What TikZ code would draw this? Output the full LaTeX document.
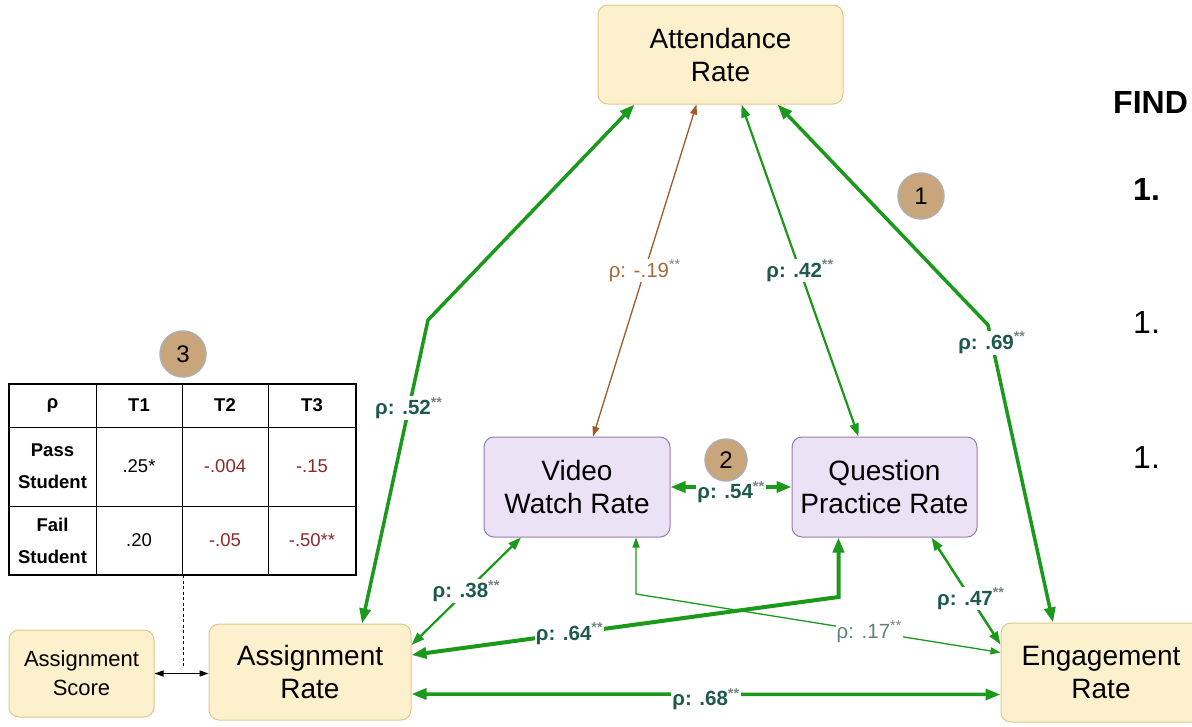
\documentclass[tikz,border=0pt]{standalone}
\usepackage{fontspec}
\setmainfont{Liberation Sans}
\usetikzlibrary{arrows.meta}
\definecolor{gline}{RGB}{27,153,27}
\definecolor{labteal}{RGB}{30,90,75}
\definecolor{labstar}{RGB}{120,135,130}
\definecolor{lablight}{RGB}{95,130,120}
\definecolor{bline}{RGB}{160,90,40}
\definecolor{blab}{RGB}{165,105,60}
\definecolor{yfill}{RGB}{253,241,205}
\definecolor{ybord}{RGB}{222,200,140}
\definecolor{pfill}{RGB}{236,226,246}
\definecolor{pbord}{RGB}{150,125,170}
\definecolor{cfill}{RGB}{200,165,122}
\definecolor{cbord}{RGB}{175,175,175}
\definecolor{dred}{RGB}{140,40,40}
\newcommand\rholab[1]{ρ: #1\textsuperscript{\color{labstar}**}}
\begin{document}
\begin{tikzpicture}[x=1pt,y=-1pt,
  ybox/.style={draw=ybord, fill=yfill, rounded corners=10pt, line width=1pt, align=center, inner sep=0pt, font=\fontsize{28}{33}\selectfont},
  pbox/.style={draw=pbord, fill=pfill, rounded corners=10pt, line width=1pt, align=center, inner sep=0pt, font=\fontsize{28}{33}\selectfont},
  gthick/.style={draw=gline, line width=3.5pt, arrows={Triangle[length=15pt,width=11pt]-Triangle[length=15pt,width=11pt]}},
  gmed/.style={draw=gline, line width=2.2pt, arrows={Triangle[length=13pt,width=9pt]-Triangle[length=13pt,width=9pt]}},
  gthin/.style={draw=gline, line width=1.3pt, arrows={Triangle[length=10pt,width=7pt]-Triangle[length=10pt,width=7pt]}},
  bthin/.style={draw=bline, line width=1.3pt, arrows={Triangle[length=10pt,width=7pt]-Triangle[length=10pt,width=7pt]}},
  lbl/.style={fill=white, inner sep=1pt, text=labteal, font=\bfseries\fontsize{20.5}{20}\selectfont},
  lbllight/.style={fill=white, inner sep=1pt, text=lablight, font=\fontsize{20.5}{20}\selectfont},
  lblbrown/.style={fill=white, inner sep=1pt, text=blab, font=\fontsize{20.5}{20}\selectfont},
  badge/.style={circle, draw=cbord, line width=1.5pt, fill=cfill, inner sep=0pt, font=\fontsize{24}{24}\selectfont},
  cell/.style={align=center, inner sep=0pt, font=\fontsize{18.5}{32}\selectfont},
  hcell/.style={align=center, inner sep=0pt, font=\bfseries\fontsize{18.5}{32}\selectfont}
]
\useasboundingbox (0,0) rectangle (1192,726);

% nodes
\node[ybox, minimum width=245pt, minimum height=99pt] (att) at (720.5,54.5) {Attendance\\Rate};
\node[pbox, minimum width=186pt, minimum height=100pt] (vid) at (577,487) {Video\\Watch Rate};
\node[pbox, minimum width=185pt, minimum height=100pt] (qp) at (884.5,487) {Question\\Practice Rate};
\node[ybox, minimum width=202pt, minimum height=96pt] (asr) at (310,672) {Assignment\\Rate};
\node[ybox, minimum width=200pt, minimum height=99pt] (eng) at (1101,672.5) {Engagement\\Rate};
\node[ybox, minimum width=145pt, minimum height=87pt, font=\fontsize{22}{29}\selectfont] (asc) at (81.5,673.5) {Assignment\\Score};

% table
\draw[line width=1pt] (96,384) -- (96,575) (182,384) -- (182,575) (268,384) -- (268,575)
  (9,427) -- (356,427) (9,506) -- (356,506);
\draw[line width=1.5pt] (9,384) rectangle (356,575);
\node[hcell] (h0) at (52.5,405.5) {ρ};
\node[hcell] (h1) at (139,405.5) {T1};
\node[hcell] (h2) at (225,405.5) {T2};
\node[hcell] (h3) at (312,405.5) {T3};
\node[hcell] (r1) at (52.5,466.5) {Pass\\Student};
\node[cell] (r1c1) at (139,466.5) {.25*};
\node[cell, text=dred] (r1c2) at (225,466.5) {-.004};
\node[cell, text=dred] (r1c3) at (312,466.5) {-.15};
\node[hcell] (r2) at (52.5,540.5) {Fail\\Student};
\node[cell] (r2c1) at (139,540.5) {.20};
\node[cell, text=dred] (r2c2) at (225,540.5) {-.05};
\node[cell, text=dred] (r2c3) at (312,540.5) {-.50**};
\coordinate (tblbot) at (183,575);
\coordinate (dotend) at (183,666);
\draw[black, line width=1pt, dash pattern=on 3pt off 2.5pt] (tblbot) -- (dotend);

% connectors
\coordinate (b1) at (428,320);
\draw[gthick] ([xshift=52pt]asr.north) -- node[lbl,pos=.71]{\rholab{.52}} (b1) -- ([xshift=-86pt]att.south);
\draw[bthin] ([xshift=16pt]vid.north) -- node[lblbrown,pos=.5]{\rholab{-.19}} ([xshift=-24pt]att.south);
\draw[gmed] ([xshift=-26pt]qp.north) -- node[lbl,pos=.5]{\rholab{.42}} ([xshift=21pt]att.south);
\coordinate (b4) at (988,325);
\draw[gthick] ([xshift=-48pt]eng.north) -- node[lbl,pos=.94]{\rholab{.69}} (b4) -- ([xshift=57pt]att.south);
\draw[gthick] (vid.east) -- node[lbl,pos=.5,yshift=-5pt]{\rholab{.54}} (qp.west);
\draw[gmed] ([yshift=27pt]asr.east) -- node[lbl,pos=.5]{\rholab{.38}} ([xshift=-56pt]vid.south);
\coordinate (c17) at (636,594);
\draw[gthin] ([xshift=59pt]vid.south) -- (c17) -- node[lbllight,pos=.64]{\rholab{.17}} ([yshift=20pt]eng.west);
\coordinate (c64) at (838.5,597);
\draw[gthick, line width=4pt] ([yshift=17pt]asr.east) -- node[lbl,pos=.37]{\rholab{.64}} (c64) -- ([xshift=-46pt]qp.south);
\draw[gmed, line width=2.5pt] ([xshift=47pt]qp.south) -- node[lbl,pos=.57]{\rholab{.47}} ([yshift=28pt]eng.west);
\draw[gthick] ([yshift=-22pt]asr.east) -- node[lbl,pos=.5,yshift=-5pt]{\rholab{.68}} ([yshift=-22pt]eng.west);
\draw[black, line width=1.2pt, arrows={Triangle[length=9pt,width=6pt]-Triangle[length=9pt,width=6pt]}] (asc.east) -- (asr.west |- asc.east);

% badges
\node[badge, minimum size=46pt] (n1) at (921,196) {1};
\node[badge, minimum size=42pt] (n2) at (726,460) {2};
\node[badge, minimum size=46pt] (n3) at (183,354) {3};

% right side text
\node[anchor=west, inner sep=0pt, font=\bfseries\fontsize{32}{32}\selectfont] (find) at (1113,102) {FIND};
\node[anchor=west, inner sep=0pt, font=\bfseries\fontsize{32}{32}\selectfont] (i1) at (1133,189) {1.};
\node[anchor=west, inner sep=0pt, font=\fontsize{32}{32}\selectfont] (i2) at (1133,322) {1.};
\node[anchor=west, inner sep=0pt, font=\fontsize{32}{32}\selectfont] (i3) at (1133,457) {1.};
\end{tikzpicture}
\end{document}
